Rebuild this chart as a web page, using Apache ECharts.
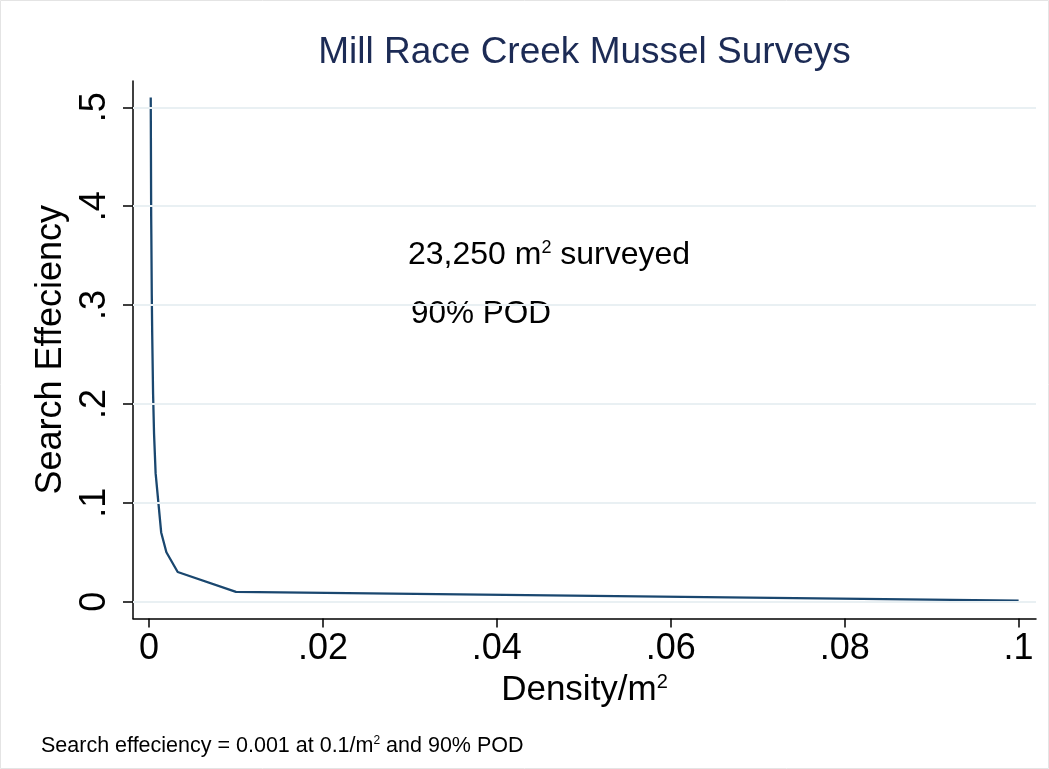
<!DOCTYPE html>
<html>
<head>
<meta charset="utf-8">
<script src="https://cdn.jsdelivr.net/npm/echarts@6/dist/echarts.min.js"></script>
<style>html,body{margin:0;padding:0;background:#fff}#c{width:1049px;height:769px}</style>
</head>
<body>
<div id="c"></div>
<script>
const density = [0.0002, 0.00025, 0.00027, 0.00032, 0.00037, 0.00047, 0.00058, 0.00076, 0.0014, 0.002, 0.0033, 0.01, 0.1];
const efficiency = [0.51, 0.39, 0.37, 0.31, 0.27, 0.21, 0.17, 0.13, 0.07, 0.05, 0.03, 0.01, 0.001];
const xTicks = [0, 0.02, 0.04, 0.06, 0.08, 0.1];
const yTicks = [0, 0.1, 0.2, 0.3, 0.4, 0.5];
const titleText = 'Mill Race Creek Mussel Surveys';
const xName = 'Density/m{sup|2}';
const yName = 'Search Effeciency';
const note1 = '23,250 m{sup|2} surveyed';
const note2 = '90% POD';
const footnote = 'Search effeciency = 0.001 at 0.1/m{sup|2} and 90% POD';

const FONT = '"Liberation Sans", Arial, Helvetica, sans-serif';
const fmt = v => {
  if (Math.abs(v) < 1e-12) return '0';
  let s = String(+v.toFixed(6));
  return s.replace(/^0\./, '.');
};

const chart = echarts.init(document.getElementById('c'), null, {renderer: 'canvas'});
const pts = density.map((d, i) => [d, efficiency[i]]);

chart.setOption({
  animation: false,
  backgroundColor: '#ffffff',
  grid: {left: 133, right: 13, top: 81, bottom: 150.5, containLabel: false},
  xAxis: {
    type: 'value', min: -0.00184, max: 0.102,
    name: xName, nameLocation: 'middle', nameGap: 52,
    nameTextStyle: {fontFamily: FONT, fontSize: 35, color: '#000',
      rich: {sup: {fontFamily: FONT, fontSize: 20, color: '#000', verticalAlign: 'top', padding: [0,0,16,0]}}},
    axisLine: {show: true, onZero: false, lineStyle: {color: '#000', width: 1.5}},
    axisTick: {show: true, length: 9, customValues: xTicks, lineStyle: {color: '#000', width: 1.5}},
    axisLabel: {customValues: xTicks, formatter: fmt, margin: 13, fontFamily: FONT, fontSize: 36, color: '#000'},
    splitLine: {show: false}
  },
  yAxis: {
    type: 'value', min: -0.017, max: 0.5266,
    name: yName, nameLocation: 'middle', nameGap: 60,
    nameTextStyle: {fontFamily: FONT, fontSize: 36, color: '#000'},
    axisLine: {show: true, onZero: false, lineStyle: {color: '#000', width: 1.5}},
    axisTick: {show: true, length: 10, customValues: yTicks, lineStyle: {color: '#000', width: 1.5}},
    axisLabel: {customValues: yTicks, formatter: fmt, rotate: 90, margin: 20, fontFamily: FONT, fontSize: 36, color: '#000'},
    splitLine: {show: false}
  },
  series: [
    {
      type: 'line', data: [], silent: true,
      markLine: {
        silent: true, symbol: 'none', animation: false,
        label: {show: false},
        lineStyle: {color: '#e9f0f3', width: 2, type: 'solid'},
        data: yTicks.map(v => ({yAxis: v}))
      }
    },
    {
      type: 'line', data: pts, showSymbol: false, symbol: 'none',
      lineStyle: {color: '#1a476f', width: 2.3},
      itemStyle: {color: '#1a476f'}
    }
  ],
  graphic: [
    {type: 'rect', shape: {x: 0.5, y: 0.5, width: 1048, height: 768}, style: {fill: 'none', stroke: '#e4e4e4', lineWidth: 1}, silent: true, z: -1},
    {type: 'text', x: 584.5, y: 53, style: {text: titleText, font: '37px ' + FONT, fill: '#1c2b55', textAlign: 'center', textVerticalAlign: 'middle'}},
    {type: 'text', x: 408, y: 255, style: {text: note1, fontFamily: FONT, fontSize: 32, fill: '#000', textAlign: 'left', textVerticalAlign: 'middle',
      rich: {sup: {fontFamily: FONT, fontSize: 18, fill: '#000', verticalAlign: 'top', padding: [0,0,13,0]}}}},
    {type: 'text', x: 411, y: 314, style: {text: note2, fontFamily: FONT, fontSize: 31.5, fill: '#000', textAlign: 'left', textVerticalAlign: 'middle'}},
    {type: 'text', x: 41, y: 746, style: {text: footnote, fontFamily: FONT, fontSize: 21.5, fill: '#000', textAlign: 'left', textVerticalAlign: 'middle',
      rich: {sup: {fontFamily: FONT, fontSize: 12, fill: '#000', verticalAlign: 'top', padding: [0,0,8,0]}}}}
  ]
});
</script>
</body>
</html>
